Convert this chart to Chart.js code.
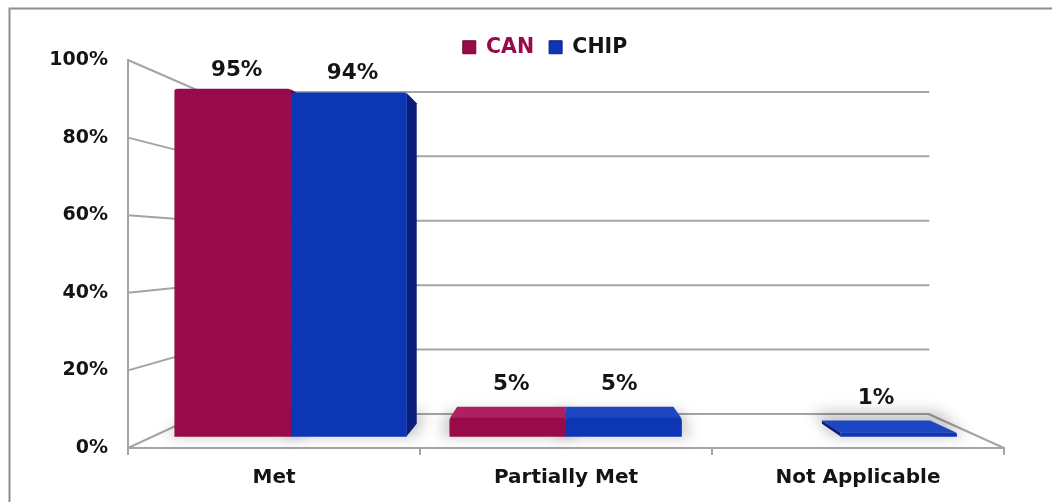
<!DOCTYPE html>
<html>
<head>
<meta charset="utf-8">
<script src="https://cdn.jsdelivr.net/npm/chart.js@4.4.1/dist/chart.umd.min.js"></script>
<style>
  html, body { margin: 0; padding: 0; background: #fff; }
  canvas { display: block; }
</style>
</head>
<body>
<canvas id="chart" width="1052" height="502"></canvas>
<script>
// Review outcome shares per category
const categories = ['Met', 'Partially Met', 'Not Applicable'];
const seriesNames = ['CAN', 'CHIP'];
const canValues = [95, 5, 0];
const chipValues = [94, 5, 1];
const yTicks = [0, 20, 40, 60, 80, 100];

// Colours
const CAN_FRONT = '#990a4b', CAN_TOP = '#ad2160', CAN_SIDE = '#6a0533';
const CHIP_FRONT = '#0d36b4', CHIP_TOP = '#1d47c2', CHIP_SIDE = '#0a1f7c';
const LINE = '#a4a4a4';
const TEXT = '#141414';
const FONT = '"DejaVu Sans", Verdana, sans-serif';

// Simple one-point perspective: everything shrinks toward a vanishing point
const VP = { x: 560, y: 248 };
const BACK_WALL = 0.83;   // depth of the back wall
const BAR_FRONT = 0.942;  // depth of the bars' front faces
const BAR_BACK = 0.879;   // depth of the bars' back faces

function project(px, py, s) {
  return { x: VP.x + s * (px - VP.x), y: VP.y + s * (py - VP.y) };
}

function poly(ctx, pts, fill) {
  ctx.beginPath();
  ctx.moveTo(pts[0].x, pts[0].y);
  for (let i = 1; i < pts.length; i++) ctx.lineTo(pts[i].x, pts[i].y);
  ctx.closePath();
  ctx.fillStyle = fill;
  ctx.fill();
}

function barBox(el) {
  const { x, y, base, width } = el.getProps(['x', 'y', 'base', 'width'], true);
  return { l: x - width / 2, r: x + width / 2, t: Math.min(y, base), b: Math.max(y, base), cx: x };
}

const scene3d = {
  id: 'scene3d',
  afterLayout(chart) {
    // let the y tick labels spill left of the narrow axis box
    chart.scales.y.left = 0;
  },
  beforeDraw(chart) {
    const { ctx, width, height } = chart;
    ctx.save();
    ctx.fillStyle = '#fff';
    ctx.fillRect(0, 0, width, height);
    // outer frame
    ctx.strokeStyle = '#8e8e8e';
    ctx.lineWidth = 2;
    ctx.beginPath();
    ctx.moveTo(9.5, height);
    ctx.lineTo(9.5, 8.5);
    ctx.lineTo(width, 8.5);
    ctx.stroke();
    ctx.restore();
  },
  beforeDatasetsDraw(chart) {
    const { ctx, chartArea: a, scales: { y } } = chart;
    ctx.save();
    ctx.strokeStyle = LINE;
    ctx.lineWidth = 2;
    ctx.lineCap = 'round';
    const backL = project(a.left, 0, BACK_WALL).x;
    const backR = project(a.right, 0, BACK_WALL).x;
    // side wall lines and back wall gridlines
    yTicks.forEach(v => {
      const yf = y.getPixelForValue(v);
      const yb = project(0, yf, BACK_WALL).y;
      ctx.beginPath();
      ctx.moveTo(a.left, yf);
      ctx.lineTo(backL, yb);
      ctx.lineTo(backR, yb);
      ctx.stroke();
    });
    // right edge of the floor
    const y0 = y.getPixelForValue(0);
    const c = project(a.right, y0, BACK_WALL);
    ctx.beginPath();
    ctx.moveTo(a.right, y0);
    ctx.lineTo(c.x, c.y);
    ctx.stroke();
    ctx.restore();

    const F = (px, py) => project(px, py, BAR_FRONT);
    const B = (px, py) => project(px, py, BAR_BACK);

    // soft floor shadows around each bar's footprint
    ctx.save();
    ctx.filter = 'blur(7px)';
    chart.data.datasets.forEach((ds, di) => {
      chart.getDatasetMeta(di).data.forEach((el, i) => {
        if (!ds.data[i]) return;
        const bx = barBox(el);
        const g = 10;
        poly(ctx, [F(bx.l - g, bx.b), F(bx.r + g, bx.b), B(bx.r + g, bx.b - 14), B(bx.l - g, bx.b - 14)],
             'rgba(0,0,0,0.22)');
      });
    });
    ctx.restore();

    // depth faces of the bars
    const tops = [CAN_TOP, CHIP_TOP], sides = [CAN_SIDE, CHIP_SIDE];
    chart.data.datasets.forEach((ds, di) => {
      chart.getDatasetMeta(di).data.forEach((el, i) => {
        if (!ds.data[i]) return;
        const bx = barBox(el);
        if (F(bx.l, bx.t).y > VP.y) {
          poly(ctx, [F(bx.l, bx.t), F(bx.r, bx.t), B(bx.r, bx.t), B(bx.l, bx.t)], tops[di]);
        }
        if (F(bx.r, bx.t).x < VP.x) {
          poly(ctx, [F(bx.r, bx.t), F(bx.r, bx.b), B(bx.r, bx.b), B(bx.r, bx.t)], sides[di]);
        }
        if (F(bx.l, bx.t).x > VP.x) {
          poly(ctx, [F(bx.l, bx.t), F(bx.l, bx.b), B(bx.l, bx.b), B(bx.l, bx.t)], sides[di]);
        }
      });
    });

    // front faces are drawn by Chart.js inside the bars' depth plane
    ctx.save();
    ctx.translate(VP.x, VP.y);
    ctx.scale(BAR_FRONT, BAR_FRONT);
    ctx.translate(-VP.x, -VP.y);
  },
  afterDatasetsDraw(chart) {
    const { ctx } = chart;
    ctx.restore();
    // value labels
    ctx.save();
    ctx.font = 'bold 21.5px ' + FONT;
    ctx.fillStyle = TEXT;
    ctx.textAlign = 'center';
    ctx.textBaseline = 'middle';
    chart.data.datasets.forEach((ds, di) => {
      chart.getDatasetMeta(di).data.forEach((el, i) => {
        const v = ds.data[i];
        if (!v) return;
        const bx = barBox(el);
        const f = project(bx.cx, bx.t, BAR_FRONT);
        const b = project(bx.cx, bx.t, BAR_BACK);
        const topSeen = f.y > VP.y;
        const x = topSeen ? b.x : f.x + 4;
        const yy = topSeen ? b.y - 22 : f.y - 19;
        ctx.fillText(v + '%', x, yy);
      });
    });
    ctx.restore();
  }
};

const fillFor = color => c => (c.raw ? color : 'rgba(0,0,0,0)');

new Chart(document.getElementById('chart'), {
  type: 'bar',
  data: {
    labels: categories,
    datasets: [
      { label: seriesNames[0], data: canValues, backgroundColor: fillFor(CAN_FRONT), borderWidth: 0,
        borderRadius: { topLeft: 3, topRight: 3 }, borderSkipped: 'bottom', clip: false },
      { label: seriesNames[1], data: chipValues, backgroundColor: fillFor(CHIP_FRONT), borderWidth: 0,
        borderRadius: { topLeft: 3, topRight: 3 }, borderSkipped: 'bottom', clip: false }
    ]
  },
  options: {
    responsive: false,
    devicePixelRatio: 1,
    animation: false,
    events: [],
    barThickness: 123,
    layout: { padding: { left: 86, right: 48, top: 22, bottom: 1 } },
    plugins: {
      tooltip: { enabled: false },
      legend: {
        position: 'top',
        maxHeight: 38,
        labels: {
          boxWidth: 13,
          boxHeight: 13,
          padding: 15,
          font: { family: FONT, size: 20.5, weight: 'bold' },
          generateLabels(chart) {
            const items = Chart.defaults.plugins.legend.labels.generateLabels(chart);
            const textColors = [CAN_FRONT, TEXT];
            const fills = [CAN_FRONT, CHIP_FRONT];
            const edges = [CAN_SIDE, CHIP_SIDE];
            items.forEach((it, i) => {
              it.fontColor = textColors[i];
              it.fillStyle = fills[i];
              it.strokeStyle = edges[i];
              it.lineWidth = 1;
            });
            return items;
          }
        }
      }
    },
    scales: {
      x: {
        offset: true,
        grid: { display: true, drawOnChartArea: false, drawTicks: true, tickLength: 7,
                color: LINE, lineWidth: 2, offset: true },
        border: { display: true, color: LINE, width: 2 },
        ticks: { font: { family: FONT, size: 20, weight: 'bold' }, color: TEXT, padding: 11 }
      },
      y: {
        min: 0,
        max: 100,
        afterFit(scale) { scale.width = 42; },
        grid: { display: false, drawTicks: false },
        border: { display: true, color: LINE, width: 2 },
        ticks: {
          stepSize: 20,
          padding: 20,
          color: TEXT,
          font: { family: FONT, size: 19, weight: 'bold' },
          callback: v => v + '%'
        }
      }
    }
  },
  plugins: [scene3d]
});
</script>
</body>
</html>
